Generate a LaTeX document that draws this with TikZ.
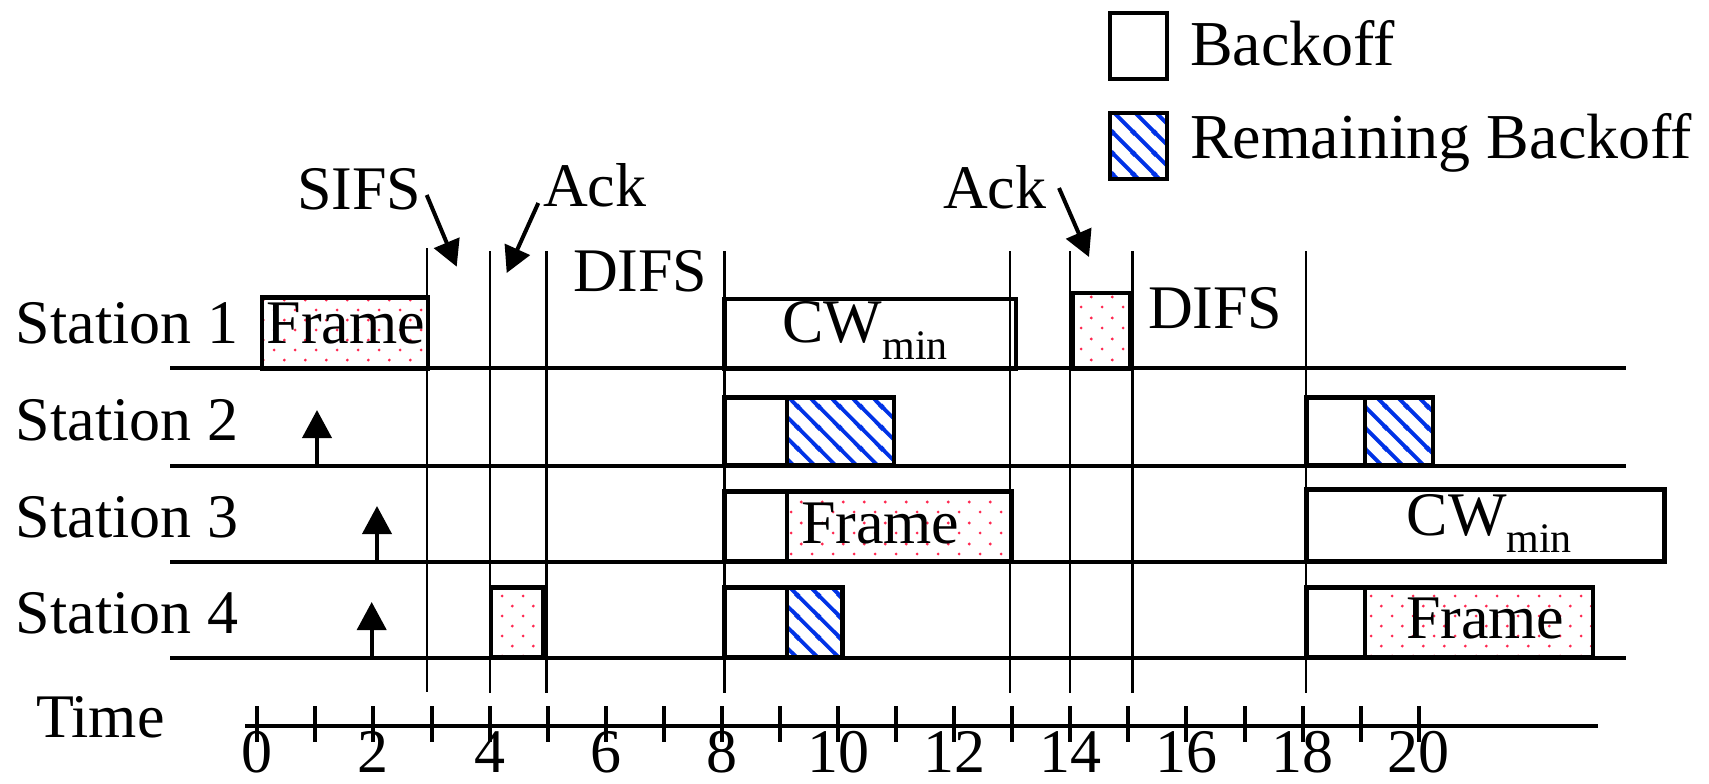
\documentclass[tikz,border=0pt]{standalone}
\usepackage{fontspec}
\setmainfont{Liberation Serif}
\usetikzlibrary{arrows.meta,patterns.meta}
\definecolor{dotred}{RGB}{255,40,80}
\definecolor{hatchblue}{RGB}{0,50,230}
\newcommand\labelsize{\fontsize{31}{36}\selectfont}
\newcommand\legendsize{\fontsize{32}{38}\selectfont}
\newcommand\subsize{\fontsize{21}{24}\selectfont}
\newcommand\cwmin{CW\raisebox{-8.5pt}{\subsize min}}

% diagonal stripes running from upper left to lower right
\pgfdeclarepattern{
  name=backslash hatch,
  type=uncolored,
  bottom left={\pgfpoint{0pt}{0pt}},
  top right={\pgfpoint{10.5pt}{10.5pt}},
  tile size={\pgfpoint{10.5pt}{10.5pt}},
  code={
    \pgfsetlinewidth{2pt}
    \pgfpathmoveto{\pgfpoint{-1pt}{11.5pt}}\pgfpathlineto{\pgfpoint{11.5pt}{-1pt}}
    \pgfpathmoveto{\pgfpoint{-1pt}{1pt}}\pgfpathlineto{\pgfpoint{1pt}{-1pt}}
    \pgfpathmoveto{\pgfpoint{9.5pt}{11.5pt}}\pgfpathlineto{\pgfpoint{11.5pt}{9.5pt}}
    \pgfusepath{stroke}
  }
}
% staggered grid of small dots
\pgfdeclarepattern{
  name=frame dots,
  type=uncolored,
  bottom left={\pgfpoint{0pt}{0pt}},
  top right={\pgfpoint{10.35pt}{10.2pt}},
  tile size={\pgfpoint{10.35pt}{10.2pt}},
  code={
    \pgfpathcircle{\pgfpoint{2.6pt}{2.55pt}}{0.8pt}
    \pgfpathcircle{\pgfpoint{7.75pt}{7.65pt}}{0.8pt}
    \pgfusepath{fill}
  }
}

\begin{document}
\begin{tikzpicture}[x=0.5pt,y=-0.5pt,
  every node/.style={inner sep=0pt, outer sep=0pt, font=\labelsize},
  lbl/.style={anchor=base west},
  num/.style={anchor=base},
  rowline/.style={line width=2pt},
  divider/.style={line width=1.35pt},
  tickmark/.style={line width=2pt},
  slot/.style={draw, line width=2.3pt},
  framefill/.style={slot, pattern=frame dots, pattern color=dotred},
  remfill/.style={slot, pattern=backslash hatch, pattern color=hatchblue},
  pointer/.style={line width=2pt, -{Triangle[width=13.5pt,length=13pt]}},
  arrival/.style={line width=2pt, -{Triangle[width=14.5pt,length=14pt]}}
]
\useasboundingbox (0,0) rectangle (1709,783);

% legend
\draw[slot] (1110,13) rectangle (1167,79);
\draw[remfill] (1110,113) rectangle (1167,179);
\node[lbl,font=\legendsize] (legA) at (1190,65) {Backoff};
\node[lbl,font=\legendsize] (legB) at (1190,158) {Remaining Backoff};

% station time lines
\foreach \y in {368.3,465.7,561.7,657.7}
  \draw[rowline] (170,\y) -- (1626,\y);

% station names
\node[lbl] (st1) at (16,343) {Station 1};
\node[lbl] (st2) at (16,440) {Station 2};
\node[lbl] (st3) at (16,537) {Station 3};
\node[lbl] (st4) at (16,633) {Station 4};

% station 1
\draw[framefill] (262,297.3) rectangle (428,368.3);
\draw[slot] (724.5,299) rectangle (1016,368.3);
\draw[framefill] (1073,293) rectangle (1130.5,368.3);
\node[lbl] (frameA) at (266.7,343.3) {Frame};
\node[lbl] (cwA) at (782.6,342) {\cwmin};

% station 2
\draw[slot] (724.5,397.3) rectangle (787,465.7);
\draw[remfill] (787,397.3) rectangle (894,465.7);
\draw[slot] (1306.5,397.3) rectangle (1365,465.7);
\draw[remfill] (1365,397.3) rectangle (1433,465.7);

% station 3
\draw[slot] (724.5,491.5) rectangle (787,561.7);
\draw[framefill] (787,491.5) rectangle (1011.5,561.7);
\draw[slot] (1306.5,489.5) rectangle (1664.5,561.7);
\node[lbl] (frameB) at (801,543) {Frame};
\node[lbl] (cwB) at (1406.7,535) {\cwmin};

% station 4
\draw[framefill] (491,587.3) rectangle (543.5,657.7);
\draw[slot] (724.5,587.3) rectangle (787,657.7);
\draw[remfill] (787,587.3) rectangle (842.5,657.7);
\draw[slot] (1306.5,587.3) rectangle (1365,657.7);
\draw[framefill] (1365,587.3) rectangle (1593,657.7);
\node[lbl] (frameC) at (1406,638) {Frame};

% frame arrivals
\draw[arrival] (317,465.7) -- (317,410);
\draw[arrival] (377,561.7) -- (377,506);
\draw[arrival] (371.7,657.7) -- (371.7,602);

% slot boundaries
\draw[divider] (427,248) -- (427,692);
\foreach \x in {490,546.7,724.5,1010,1070,1132.5,1306}
  \draw[divider] (\x,251) -- (\x,693);

% interval labels
\node[lbl] (sifs) at (297,209) {SIFS};
\node[lbl] (ackA) at (543,206.7) {Ack};
\node[lbl] (difsA) at (573,291.7) {DIFS};
\node[lbl] (ackB) at (943,208) {Ack};
\node[lbl] (difsB) at (1148,328) {DIFS};
\coordinate (sifsTail) at (426.7,195);
\coordinate (sifsTip) at (456.7,266.7);
\coordinate (ackATail) at (538.3,203);
\coordinate (ackATip) at (506.7,273);
\coordinate (ackBTail) at (1059,188);
\coordinate (ackBTip) at (1089,257);
\draw[pointer] (sifsTail) -- (sifsTip);
\draw[pointer] (ackATail) -- (ackATip);
\draw[pointer] (ackBTail) -- (ackBTip);

% time axis
\node[lbl] (time) at (36,737) {Time};
\draw[rowline] (245,726) -- (1598,726);
\foreach \t in {0,...,20}
  \draw[tickmark] ({257.3+58.07*\t},706) -- ({257.3+58.07*\t},741.7);
\foreach \t in {0,2,...,20}
  \node[num] (tick\t) at ({257.3+58.07*\t},772) {\t};
\end{tikzpicture}
\end{document}
